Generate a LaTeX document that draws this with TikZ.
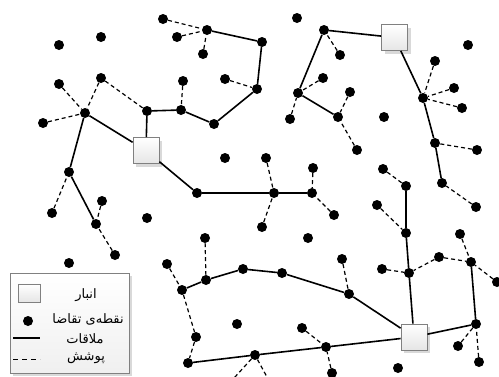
\documentclass[tikz,border=0pt]{standalone}
\usepackage{fontspec}
\newfontfamily\arabicfont[Script=Arabic]{DejaVu Sans}
\TeXXeTstate=1
\usetikzlibrary{shadows}
\tikzset{
 dem/.style={circle, fill=black, inner sep=0pt, minimum size=10pt},
 depot/.style={rectangle, draw=black!50, line width=0.8pt, top color=white, bottom color=black!10, minimum size=26pt, inner sep=0pt, drop shadow={shadow xshift=3pt, shadow yshift=-3pt, fill=black!15, opacity=1}},
 route/.style={line width=1.6pt},
 cover/.style={line width=1.2pt, dash pattern=on 4pt off 3pt},
 legtext/.style={font=\arabicfont\fontsize{13}{15}\selectfont, inner sep=0pt, anchor=center},
}
\begin{document}
\begin{tikzpicture}[x=1pt,y=-1pt]
\useasboundingbox (0,0) rectangle (499,376);
\clip (0,0) rectangle (499,376);
% demand points
\foreach \n/\x/\y in {
 a1/163/19, a2/59/45, a3/101/37, a4/177/37, h1/207/30, a5/203/54,
 n1/262/42, n2/257/89, a6/225/79, n3/214/124, n4/181/110, a7/183/81,
 n5/147/111, h0/85/113, a8/59/84, a9/101/78, a10/43/123, n6/69/172,
 a11/52/213, n7/96/224, a12/102/201, a13/115/255, a14/147/218,
 n8/197/193, n9/274/193, n10/312/193, a15/266/158, a16/262/227,
 a17/313/168, a18/334/215, a19/225/158, a20/308/238, a21/297/18,
 n11/324/30, a22/340/55, n12/298/93, a23/323/78, a24/290/119,
 n13/338/117, a25/350/92, a26/357/150, a27/384/117, a28/468/45,
 h2/423/98, a29/435/61, a30/454/88, a31/462/108, n14/435/143,
 a32/477/150, n15/442/183, a33/476/207, a34/383/169, n16/406/186,
 n17/406/233, a35/377/205, a36/460/234, n18/409/273, a37/382/269,
 a38/439/257, n19/471/262, a39/497/282, n20/476/324, a40/458/346,
 a41/479/362, a42/398/368, n21/349/294, a43/342/259, n22/282/273,
 n23/243/269, n24/206/280, a44/205/238, n25/182/290, a45/167/264,
 a46/69/263, a47/196/337, n26/188/363, n27/255/355, n28/326/347,
 a48/302/328, a49/332/373, a50/237/324}
 \node[dem] (\n) at (\x,\y) {};
\coordinate (cb1) at (225,388);
\coordinate (cb2) at (273,388);
% warehouses
\node[depot] (W1) at (146,150.5) {};
\node[depot] (W2) at (394.5,37.5) {};
\node[depot] (W3) at (414,337) {};
% routes
\draw[route] (n7) -- (n6) -- (h0) -- (W1) -- (n5) -- (n4) -- (n3) -- (n2) -- (n1) -- (h1);
\draw[route] (W1) -- (n8) -- (n9) -- (n10);
\draw[route] (W2) -- (n11) -- (n12) -- (n13);
\draw[route] (W2) -- (h2) -- (n14) -- (n15);
\draw[route] (W3) -- (n18) -- (n17) -- (n16);
\draw[route] (W3) -- (n20) -- (n19);
\draw[route] (W3) -- (n21) -- (n22) -- (n23) -- (n24) -- (n25);
\draw[route] (W3) -- (n28) -- (n27) -- (n26);
% coverage
\foreach \p/\q in {a1/h1, a4/h1, a5/h1, a6/n2, a7/n4, a8/h0, a9/h0, a10/h0,
 a9/n5, a11/n6, a12/n7, a13/n7, a15/n9, a16/n9, a17/n10, a18/n10,
 a22/n11, a23/n12, a24/n12, a25/n13, a26/n13, a29/h2, a30/h2, a31/h2,
 a32/n14, a33/n15, a34/n16, a35/n17, a37/n18, a38/n18, a38/n19,
 a36/n19, a39/n19, a40/n20, a41/n20, a43/n21, a44/n24, a45/n25,
 n25/a47, a47/n26, a48/n28, a49/n28, n27/cb1, n27/cb2}
 \draw[cover] (\p) -- (\q);
% legend
\node[draw=black!50, line width=0.6pt, top color=white, bottom color=black!6, minimum width=119pt, minimum height=100pt, inner sep=0pt, drop shadow={shadow xshift=3pt, shadow yshift=-3pt, fill=black!15, opacity=1}] (leg) at (69.5,323) {};
\node[rectangle, draw=black!50, line width=0.6pt, top color=white, bottom color=black!10, minimum width=22pt, minimum height=18pt, inner sep=0pt] (legW) at (29,293) {};
\node[dem] (legD) at (28,321) {};
\coordinate (lr1) at (13,338);
\coordinate (lr2) at (40,338);
\draw[route] (lr1) -- (lr2);
\coordinate (lc1) at (13,359);
\coordinate (lc2) at (40,359);
\draw[line width=1pt, dash pattern=on 5pt off 4pt] (lc1) -- (lc2);
\node[legtext] (t1) at (86,295) {\beginR انبار\endR};
\node[legtext] (t2) at (88,319) {\beginR نقطه‌ی تقاضا\endR};
\node[legtext] (t3) at (85,339) {\beginR ملاقات\endR};
\node[legtext] (t4) at (86,358) {\beginR پوشش\endR};
\end{tikzpicture}
\end{document}
